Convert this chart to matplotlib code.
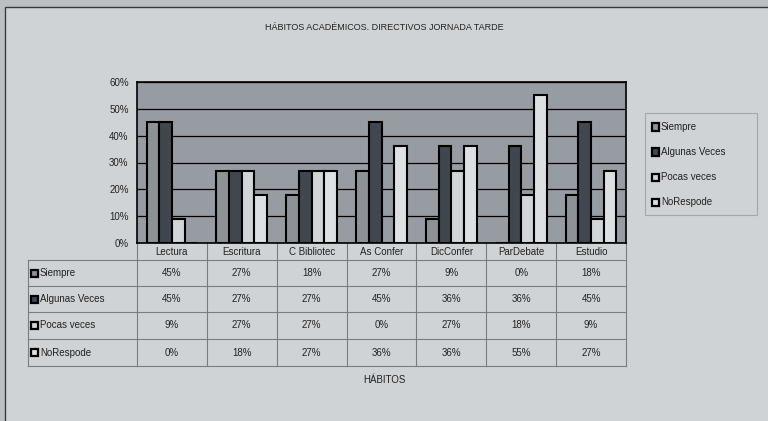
import matplotlib.pyplot as plt
import matplotlib.transforms as mtransforms
from matplotlib.patches import Rectangle
import numpy as np

plt.rcParams['font.family'] = ['Liberation Sans', 'DejaVu Sans']

habitos = ['Lectura', 'Escritura', 'C Bibliotec', 'As Confer', 'DicConfer', 'ParDebate', 'Estudio']
series = ['Siempre', 'Algunas Veces', 'Pocas veces', 'NoRespode']
siempre = [45, 27, 18, 27, 9, 0, 18]
algunas = [45, 27, 27, 45, 36, 36, 45]
pocas = [9, 27, 27, 0, 27, 18, 9]
norespode = [0, 18, 27, 36, 36, 55, 27]
valores = [siempre, algunas, pocas, norespode]
colores = ['#8d9297', '#40474f', '#d2d5d8', '#dde0e3']
yticks = [0, 10, 20, 30, 40, 50, 60]

W, H = 768, 421
txt = '#222222'
fig = plt.figure(figsize=(W / 100, H / 100), dpi=100, facecolor='#bcbfc2')
fig.patches.append(Rectangle((5 / W, -0.1), 1, 1.1 - 7 / H, transform=fig.transFigure,
                             facecolor='#d0d3d6', edgecolor='#3a3a3a', lw=1, zorder=-10))

def fy(py):
    return 1 - py / H

fig.text(384 / W, fy(28), 'HÁBITOS ACADÉMICOS. DIRECTIVOS JORNADA TARDE',
         ha='center', va='center', fontsize=6.5, color=txt)

ax = fig.add_axes([137 / W, fy(243), 489 / W, 161 / H])
ax.set_facecolor('#979ca3')
x = np.arange(len(habitos))
w = 1 / 5.5
for i, (nombre, vals) in enumerate(zip(series, valores)):
    ax.bar(x + (i - 1.5) * w, vals, w, color=colores[i], edgecolor='black', lw=1.5, zorder=3)

ax.set_xlim(-0.5, 6.5)
ax.set_ylim(0, 60)
ax.set_yticks(yticks)
ax.set_yticklabels([f'{v}%' for v in yticks], fontsize=7, color=txt)
ax.tick_params(axis='y', length=0, pad=6)
ax.set_xticks([])
ax.grid(axis='y', color='black', lw=0.9, zorder=1)
for s in ax.spines.values():
    s.set_color('black')
    s.set_linewidth(1.2)

# tabla de datos
tr = mtransforms.blended_transform_factory(ax.transData, fig.transFigure)
col_w = 489 / 7
xl = -0.5 - (137 - 28) / col_w
filas = [260, 286, 312, 339, 366]
lc = '#7a7d80'
for py in filas:
    ax.plot([xl, 6.5], [fy(py), fy(py)], transform=tr, color=lc, lw=0.8, clip_on=False)
for k in range(8):
    ax.plot([k - 0.5, k - 0.5], [fy(243), fy(366)], transform=tr, color=lc, lw=0.8, clip_on=False)
ax.plot([xl, xl], [fy(260), fy(366)], transform=tr, color=lc, lw=0.8, clip_on=False)

for j, h in enumerate(habitos):
    ax.text(j, fy(252), h, transform=tr, ha='center', va='center', fontsize=7, color=txt)
for i, (nombre, vals) in enumerate(zip(series, valores)):
    yc = (filas[i] + filas[i + 1]) / 2
    for j, v in enumerate(vals):
        ax.text(j, fy(yc), f'{v}%', transform=tr, ha='center', va='center', fontsize=7, color=txt)
    fig.patches.append(Rectangle((31 / W, fy(yc) - 3.5 / H), 7 / W, 7 / H, transform=fig.transFigure,
                                 facecolor=colores[i], edgecolor='black', lw=1.6))
    fig.text(40 / W, fy(yc), nombre, ha='left', va='center', fontsize=7, color=txt)

fig.text(384 / W, fy(380), 'HÁBITOS', ha='center', va='center', fontsize=7, color=txt)

# leyenda
fig.patches.append(Rectangle((645 / W, fy(215)), 112 / W, 102 / H, transform=fig.transFigure,
                             facecolor='none', edgecolor='#a5a8ab', lw=0.8))
for i, nombre in enumerate(series):
    yc = 127 + 25 * i
    fig.patches.append(Rectangle((652 / W, fy(yc) - 3.5 / H), 7 / W, 7 / H, transform=fig.transFigure,
                                 facecolor=colores[i], edgecolor='black', lw=1.6))
    fig.text(661 / W, fy(yc), nombre, ha='left', va='center', fontsize=7, color=txt)

fig.savefig('out.png', dpi=100, facecolor=fig.get_facecolor())
